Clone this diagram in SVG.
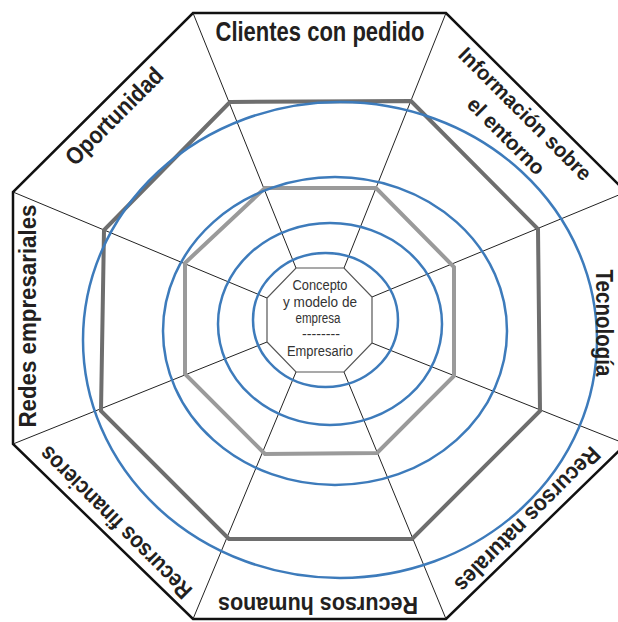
<svg xmlns="http://www.w3.org/2000/svg" width="618" height="622" viewBox="0 0 618 622">
<style>
.frame{fill:#fff;stroke:#111;stroke-width:2.5;stroke-linejoin:miter}
.spoke{stroke:#222;stroke-width:1;fill:none}
.inner{fill:#fff;stroke:#555;stroke-width:1.2}
.g1{fill:none;stroke:#6e6e6e;stroke-width:4}
.g2{fill:none;stroke:#9a9a9a;stroke-width:4}
.ring{fill:none;stroke:#3d7bbb;stroke-width:2.5}
.lbl{font-family:"Liberation Sans",Arial,sans-serif;font-weight:bold;fill:#231f20;text-anchor:middle}
.ctr{font-family:"Liberation Sans",Arial,sans-serif;font-size:14px;fill:#333;text-anchor:middle}
</style>
<rect width="618" height="622" fill="#fff"/>
<g id="frame">
<polygon class="frame" points="193,13 446,13 626,192 626,444 446,619 193,619 13,444 13,192"/>
</g>
<g id="connectors">
<line class="spoke" x1="193" y1="13" x2="296" y2="268"/>
<line class="spoke" x1="446" y1="13" x2="344" y2="268"/>
<line class="spoke" x1="626" y1="192" x2="372" y2="297"/>
<line class="spoke" x1="626" y1="444" x2="372" y2="343"/>
<line class="spoke" x1="446" y1="619" x2="344" y2="372"/>
<line class="spoke" x1="193" y1="619" x2="296" y2="372"/>
<line class="spoke" x1="13" y1="444" x2="267" y2="342"/>
<line class="spoke" x1="13" y1="192" x2="267" y2="298"/>
</g>
<g id="levels">
<polygon class="g1" points="230,102 411,101 538,229 540,411 412,539 229,539 101,411 104,230"/>
<polygon class="g2" points="265,188 376,188 454,267 454,376 377,453 265,454 185,374 185,263"/>
</g>
<g id="rings">
<ellipse class="ring" cx="325.5" cy="320" rx="72.5" ry="67"/>
<ellipse class="ring" cx="330" cy="324" rx="112" ry="101"/>
<ellipse class="ring" cx="335" cy="331" rx="172" ry="154"/>
<ellipse class="ring" cx="340" cy="340" rx="257" ry="238"/>
</g>
<g id="center">
<polygon class="inner" points="296,268 344,268 372,297 372,343 344,372 296,372 267,342 267,298"/>
<text class="ctr" x="320" y="290" textLength="55" lengthAdjust="spacingAndGlyphs">Concepto</text>
<text class="ctr" x="320" y="307" textLength="74" lengthAdjust="spacingAndGlyphs">y modelo de</text>
<text class="ctr" x="318" y="323" textLength="45" lengthAdjust="spacingAndGlyphs">empresa</text>
<text class="ctr" x="321" y="339" font-size="10" textLength="38" lengthAdjust="spacingAndGlyphs">--------</text>
<text class="ctr" x="320" y="356" textLength="66" lengthAdjust="spacingAndGlyphs">Empresario</text>
</g>
<g id="clientes">
<text class="lbl" x="320" y="41" font-size="27" textLength="209" lengthAdjust="spacingAndGlyphs">Clientes con pedido</text>
</g>
<g id="informacion">
<text class="lbl" font-size="21" transform="translate(520,119) rotate(45)" textLength="178" lengthAdjust="spacingAndGlyphs">Información sobre</text>
<text class="lbl" font-size="21" transform="translate(501,141) rotate(45)" textLength="100" lengthAdjust="spacingAndGlyphs">el entorno</text>
</g>
<g id="tecnologia">
<text class="lbl" font-size="23" transform="translate(596,323) rotate(90)" textLength="107" lengthAdjust="spacingAndGlyphs">Tecnología</text>
</g>
<g id="naturales">
<text class="lbl" font-size="23" transform="translate(522,514) rotate(135)" textLength="195" lengthAdjust="spacingAndGlyphs">Recursos naturales</text>
</g>
<g id="humanos">
<text class="lbl" font-size="23" transform="translate(318,597) rotate(180)" textLength="200" lengthAdjust="spacingAndGlyphs">Recursos humanos</text>
</g>
<g id="financieros">
<text class="lbl" font-size="23" transform="translate(121,517) rotate(-135)" textLength="205" lengthAdjust="spacingAndGlyphs">Recursos financieros</text>
</g>
<g id="redes">
<text class="lbl" font-size="23" transform="translate(36,316) rotate(-90)" textLength="223" lengthAdjust="spacingAndGlyphs">Redes empresariales</text>
</g>
<g id="oportunidad">
<text class="lbl" font-size="24" transform="translate(120,122) rotate(-45)" textLength="127" lengthAdjust="spacingAndGlyphs">Oportunidad</text>
</g>
</svg>
